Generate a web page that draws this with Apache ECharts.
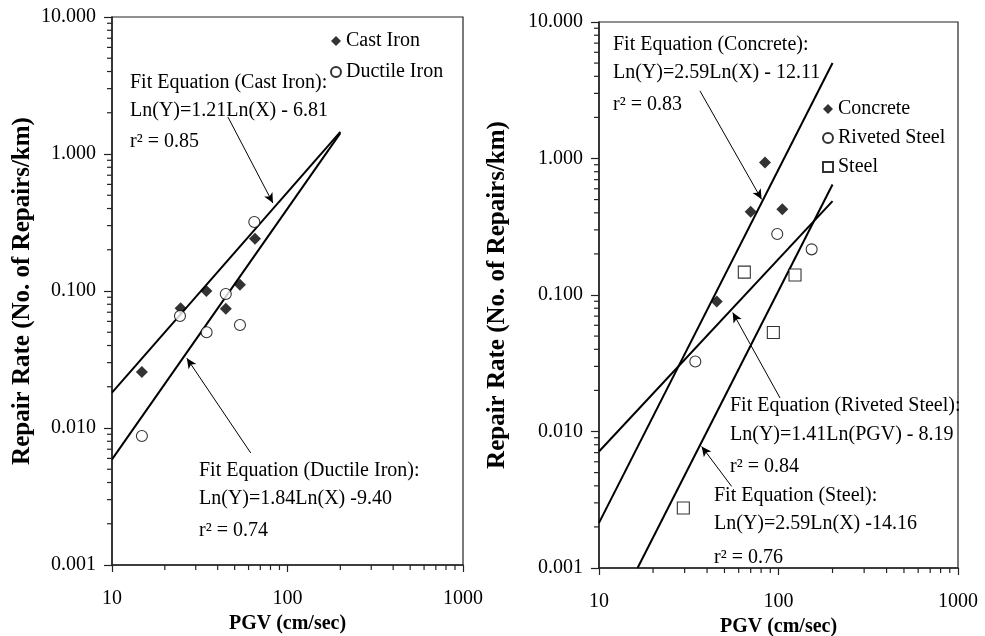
<!DOCTYPE html>
<html><head><meta charset="utf-8">
<script src="https://cdn.jsdelivr.net/npm/echarts@6/dist/echarts.min.js"></script>
<style>html,body{margin:0;padding:0;background:#fff}#c{width:985px;height:636px}</style>
</head><body><div id="c"></div><script>
const FONT = '"Liberation Serif", "Times New Roman", serif';

// ---- Left panel (pipe materials: iron) ----
const castIron = [[14.8,0.0256],[24.6,0.0748],[34.5,0.100],[44.5,0.0743],[53.6,0.111],[65.3,0.241]];
const ductileIron = [[14.8,0.00875],[24.4,0.0657],[34.6,0.050],[44.5,0.095],[53.6,0.0565],[64.7,0.319]];
const castIronFit = [[10,0.0181],[200,1.45]];
const ductileIronFit = [[10,0.0059],[200,1.42]];
const castIronArrow = [[45.8,1.86],[82.6,0.438]];
const ductileIronArrow = [[61.7,0.00658],[26.7,0.0323]];

// ---- Right panel (concrete / steel) ----
const concrete = [[45.3,0.0895],[70,0.407],[84.1,0.936],[105,0.424]];
const rivetedSteel = [[34.4,0.0326],[98.4,0.280],[153,0.216]];
const steel = [[29.5,0.00275],[64.5,0.147],[93.6,0.0531],[123.6,0.140]];
const concreteFit = [[10,0.00214],[200,5.01]];
const rivetedSteelFit = [[10,0.00714],[200,0.487]];
const steelFit = [[16.4,0.001],[200,0.645]];
const concreteArrow = [[36.5,3.13],[80.5,0.502]];
const rivetedSteelArrow = [[102,0.0176],[55.6,0.0743]];
const steelArrow = [[54.8,0.00396],[37.3,0.00778]];

// ---- Axes ----
const xRange = [10, 1000];
const yRange = [0.001, 10];
const xMinorTicks = [20,30,40,50,60,70,80,90,200,300,400,500,600,700,800,900];
const yMinorTicks = [0.002,0.003,0.004,0.005,0.006,0.007,0.008,0.009,
                     0.02,0.03,0.04,0.05,0.06,0.07,0.08,0.09,
                     0.2,0.3,0.4,0.5,0.6,0.7,0.8,0.9,
                     2,3,4,5,6,7,8,9];
const xTitle = 'PGV (cm/sec)';
const yTitle = 'Repair Rate (No. of Repairs/km)';

const grids = [
  {left:112, top:17, width:351, height:548},
  {left:599, top:22, width:359, height:546}
];

function xAxis(i){
  return {type:'log', logBase:10, gridIndex:i, min:xRange[0], max:xRange[1],
    name:xTitle, nameLocation:'middle', nameGap:46,
    nameTextStyle:{fontFamily:FONT, fontSize:20, fontWeight:'bold', color:'#000'},
    axisLine:{show:true, lineStyle:{color:'#222', width:1.5}},
    axisTick:{show:true, inside:false, length:7, lineStyle:{color:'#222', width:1.2}},
    axisLabel:{fontFamily:FONT, fontSize:20, color:'#000', margin:24, formatter:v=>String(v)},
    splitLine:{show:false}};
}
function yAxis(i, gap){
  return {type:'log', logBase:10, gridIndex:i, min:yRange[0], max:yRange[1],
    name:yTitle, nameLocation:'middle', nameGap:gap, nameRotate:90,
    nameTextStyle:{fontFamily:FONT, fontSize:25, fontWeight:'bold', color:'#000'},
    axisLine:{show:true, lineStyle:{color:'#222', width:1.5}},
    axisTick:{show:true, inside:false, length:8, lineStyle:{color:'#222', width:1.2}},
    axisLabel:{fontFamily:FONT, fontSize:20, color:'#000', margin:16, formatter:v=>Number(v).toFixed(3)},
    splitLine:{show:false}};
}

function minorTickSeries(i){
  const data = xMinorTicks.map(v=>[v, yRange[0], 0]).concat(yMinorTicks.map(v=>[xRange[0], v, 1]));
  return {type:'custom', xAxisIndex:i, yAxisIndex:i, silent:true, clip:false, z:5,
    data:data,
    renderItem:function(params, api){
      const p = api.coord([api.value(0), api.value(1)]);
      const kind = api.value(2);
      const shape = kind === 0 ? {x1:p[0], y1:p[1], x2:p[0], y2:p[1]+5}
                               : {x1:p[0]-5, y1:p[1], x2:p[0], y2:p[1]};
      return {type:'line', shape:shape, style:{stroke:'#222', lineWidth:1.2}};
    }};
}

function fitSeries(name, data, arrow, i){
  return {name:name, type:'line', xAxisIndex:i, yAxisIndex:i, data:data, symbol:'none', silent:true,
    lineStyle:{color:'#000', width:2}, z:3,
    markLine:{silent:true, symbol:['none','arrow'], symbolSize:[7,10],
      lineStyle:{color:'#000', width:1, type:'solid'}, label:{show:false},
      data:[[{coord:arrow[0]},{coord:arrow[1]}]]}};
}
function scatterSeries(name, data, symbol, size, filled, i){
  return {name:name, type:'scatter', xAxisIndex:i, yAxisIndex:i, data:data, symbol:symbol, symbolSize:size, z:4,
    itemStyle: filled ? {color:'#000', borderColor:'#000', borderWidth:0}
                      : {color:'#fff', borderColor:'#000', borderWidth:1.1}};
}

function txt(x, y, s){
  return {type:'text', left:x, top:y - 16, style:{text:s, font:'20px ' + FONT, fill:'#000'}};
}

const texts = [
  ['Fit Equation (Cast Iron):', 130, 89], ['Ln(Y)=1.21Ln(X) - 6.81', 130, 117], ['r\u00b2 = 0.85', 130, 148],
  ['Fit Equation (Ductile Iron):', 199, 477], ['Ln(Y)=1.84Ln(X) -9.40', 199, 505], ['r\u00b2 = 0.74', 199, 537],
  ['Fit Equation (Concrete):', 613, 51], ['Ln(Y)=2.59Ln(X) - 12.11', 613, 79], ['r\u00b2 = 0.83', 613, 111],
  ['Fit Equation (Riveted Steel):', 730, 412], ['Ln(Y)=1.41Ln(PGV) - 8.19', 730, 441], ['r\u00b2 = 0.84', 730, 473],
  ['Fit Equation (Steel):', 714, 502], ['Ln(Y)=2.59Ln(X) -14.16', 714, 530], ['r\u00b2 = 0.76', 714, 564]
];

const chart = echarts.init(document.getElementById('c'), null, {renderer:'canvas'});
chart.setOption({
  backgroundColor:'#fff',
  animation:false,
  grid: grids.map(g=>Object.assign({show:true, borderColor:'#222', borderWidth:1.2, backgroundColor:'transparent',
                                    containLabel:false, outerBoundsMode:'none'}, g)),
  xAxis:[xAxis(0), xAxis(1)],
  yAxis:[yAxis(0, 77), yAxis(1, 89)],
  legend:[
    {data:['Cast Iron','Ductile Iron'], orient:'vertical', left:325, top:26, padding:5, itemWidth:10, itemHeight:10, itemGap:11,
     textStyle:{fontFamily:FONT, fontSize:20, color:'#000'}, selectedMode:false},
    {data:['Concrete','Riveted Steel','Steel'], orient:'vertical', left:817, top:94, padding:5, itemWidth:10, itemHeight:10, itemGap:9,
     textStyle:{fontFamily:FONT, fontSize:20, color:'#000'}, selectedMode:false}
  ],
  graphic: texts.map(t=>txt(t[1], t[2], t[0])),
  series:[
    fitSeries('Cast Iron fit', castIronFit, castIronArrow, 0),
    fitSeries('Ductile Iron fit', ductileIronFit, ductileIronArrow, 0),
    scatterSeries('Cast Iron', castIron, 'diamond', 12, true, 0),
    scatterSeries('Ductile Iron', ductileIron, 'circle', 11, false, 0),
    minorTickSeries(0),
    fitSeries('Concrete fit', concreteFit, concreteArrow, 1),
    fitSeries('Riveted Steel fit', rivetedSteelFit, rivetedSteelArrow, 1),
    fitSeries('Steel fit', steelFit, steelArrow, 1),
    scatterSeries('Concrete', concrete, 'diamond', 12, true, 1),
    scatterSeries('Riveted Steel', rivetedSteel, 'circle', 11, false, 1),
    scatterSeries('Steel', steel, 'rect', 12, false, 1),
    minorTickSeries(1)
  ]
});
</script></body></html>
